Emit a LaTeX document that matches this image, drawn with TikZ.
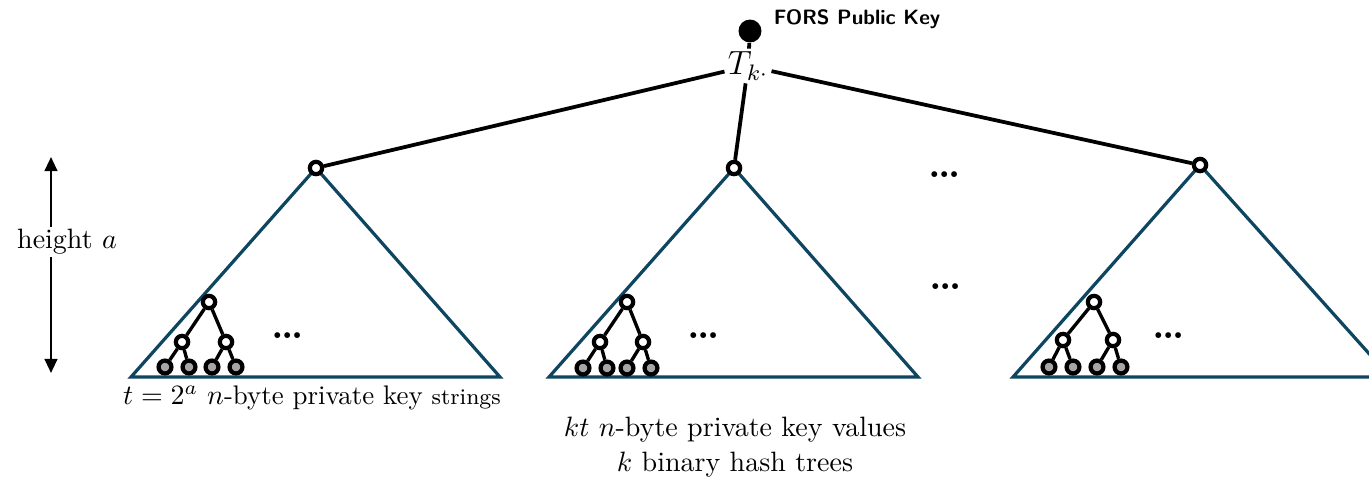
\documentclass[tikz,border=0pt]{standalone}
\usetikzlibrary{arrows.meta}
\definecolor{treeblue}{HTML}{0E4560}
\tikzset{
  tri/.style={draw=treeblue, line width=1.15pt, line join=miter},
  link/.style={draw=black, line width=1.35pt},
  apex/.style={circle, draw=black, fill=white, line width=1.5pt, inner sep=0pt, minimum size=4.4pt},
  inner/.style={circle, draw=black, fill=white, line width=1.5pt, inner sep=0pt, minimum size=4.4pt},
  leaf/.style={circle, draw=black, fill=gray!70, line width=1.5pt, inner sep=0pt, minimum size=4.6pt},
  sub/.style={draw=black, line width=1.2pt},
  bigdots/.style={inner sep=0pt, font=\Large\bfseries},
}
% one small binary subtree: root, two inner nodes, four leaves
\newcommand{\minitree}[9]{%
  \node[inner] (#1r) at (#2,#3) {};
  \node[inner] (#1m1) at (#4,#5) {};
  \node[inner] (#1m2) at (#6,#5) {};
  \node[leaf] (#1l1) at (#7,#9) {};
  \node[leaf] (#1l2) at ({#7+24},#9) {};
  \node[leaf] (#1l3) at (#8,#9) {};
  \node[leaf] (#1l4) at ({#8+24},#9) {};
  \draw[sub] (#1r) -- (#1m1);
  \draw[sub] (#1r) -- (#1m2);
  \draw[sub] (#1m1) -- (#1l1);
  \draw[sub] (#1m1) -- (#1l2);
  \draw[sub] (#1m2) -- (#1l3);
  \draw[sub] (#1m2) -- (#1l4);
}
\begin{document}
\begin{tikzpicture}[x=0.357pt, y=-0.357pt]
\useasboundingbox (0,0) rectangle (1369,484);
\clip (0,0) rectangle (1369,484);

% the three hash-tree triangles
\draw[tri] (316,168) -- (131,377) -- (500,377) -- cycle;
\draw[tri] (734,168) -- (549,377) -- (918,377) -- cycle;
\draw[tri] (1200,165) -- (1013,377) -- (1390,377) -- cycle;

% sub-trees in the bottom-left corner of each triangle
\minitree{A}{209}{302}{182}{342}{226}{165}{212}{367}
\minitree{B}{627}{302}{600}{342}{643}{583}{627}{368}
\minitree{C}{1094}{302}{1063}{340}{1113}{1049}{1097}{367}

\node[bigdots] (dA) at (288,336) {\ldots};
\node[bigdots] (dB) at (704,336) {\ldots};
\node[bigdots] (dC) at (1169,336) {\ldots};
\node[bigdots] (dTop) at (945,175) {\ldots};
\node[bigdots] (dMid) at (946,287) {\ldots};

% tree roots and the FORS root
\node[apex] (a1) at (316,168) {};
\node[apex] (a2) at (734,168) {};
\node[apex] (a3) at (1200,165) {};

\node[circle, fill=black, inner sep=0pt, minimum size=8.2pt] (pk) at (750,31) {};
\node[anchor=west, font=\sffamily\bfseries\fontsize{7.4}{9}\selectfont] (pklabel) at (764,19) {FORS Public Key};
\node[inner sep=1pt, font=\large] (Tk) at (748,66) {$T_{k\cdot}$};

\draw[link] (pk) -- (Tk);
\draw[link] (Tk) -- (a1);
\draw[link] (Tk) -- (a2);
\draw[link] (Tk) -- (a3);

% height indicator
\coordinate (hTop) at (51,157);
\coordinate (hBot) at (51,373);
\draw[line width=0.8pt, {Triangle[length=5pt,width=4.5pt]}-{Triangle[length=5pt,width=4.5pt]}] (hTop) -- (hBot);
\node[fill=white, inner sep=1pt] (hlabel) at (67,242) {height $a$};

% captions
\node[font=\fontsize{9.6}{11}\selectfont] (tlabel) at (312,398) {$t = 2^{a}$ $n$-byte private key {\footnotesize strings}};
\node (kt) at (735,430) {$kt$ $n$-byte private key values};
\node (kb) at (735,465) {$k$ binary hash trees};
\end{tikzpicture}
\end{document}
